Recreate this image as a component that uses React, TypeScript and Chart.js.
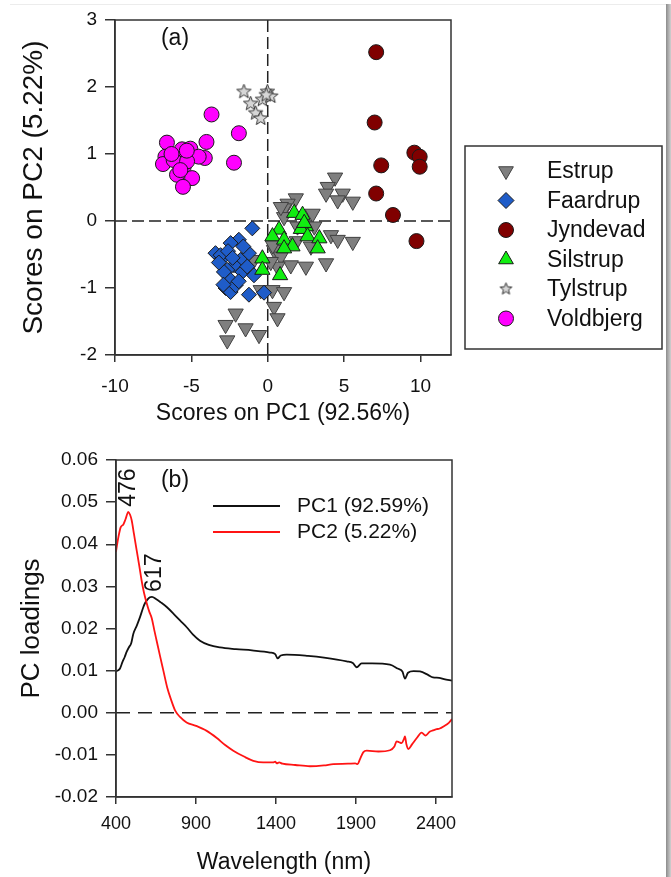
import React, { useEffect, useRef } from 'react';
import { Chart, registerables } from 'chart.js';
import { drawPoint } from 'chart.js/helpers';

Chart.register(...registerables);
Chart.defaults.font.family = '"Liberation Sans", Arial, sans-serif';
Chart.defaults.color = '#111';

// ---------- Panel (a): PCA scores ----------
const groupNames = ['Estrup', 'Faardrup', 'Jyndevad', 'Silstrup', 'Tylstrup', 'Voldbjerg'];
const groupColors = ['#7f7f7f', '#1f5cc8', '#800000', '#11ee11', '#d6d6d6', '#ff00ff'];

const estrup: [number, number][] = [
  [4.41, 0.65], [3.93, 0.51], [4.91, 0.41], [5.57, 0.29], [4.58, 0.31], [3.82, 0.41],
  [1.84, 0.34], [1.3, 0.26], [1.07, 0.19], [2.94, 0.11], [1.07, 0.06], [0.86, 0.21],
  [1.95, -0.08], [3.05, -0.08], [4.14, -0.21], [4.58, -0.28], [5.57, -0.31], [2.83, -0.38],
  [0.41, -0.43], [0.86, -0.53], [1.51, -0.66], [2.5, -0.68], [3.82, -0.63], [0.64, -0.68],
  [0.2, -0.61], [-0.9, -0.58], [0.33, -0.36], [1.9, -0.3],
  [-0.46, -1.03], [0.31, -1.03], [1.07, -1.06], [0.41, -1.28], [0.64, -1.45],
  [-2.1, -1.38], [-2.76, -1.55], [-1.45, -1.6], [-2.65, -1.78], [-0.57, -1.7],
];
const faardrup: [number, number][] = [
  [-1.01, -0.11], [-1.89, -0.28], [-2.43, -0.33], [-3.42, -0.48], [-2.98, -0.56], [-1.78, -0.58],
  [-1.23, -0.48], [-2.21, -0.66], [-2.65, -0.73], [-1.66, -0.76], [-0.9, -0.81], [-2.43, -0.88],
  [-2.76, -1.0], [-2.43, -1.06], [-1.23, -1.1], [-0.24, -1.07], [-3.09, -0.51], [-1.34, -0.68],
  [-2.87, -0.76], [-2.1, -0.96], [-3.2, -0.62], [-2.6, -0.45], [-1.9, -0.9], [-2.9, -0.95],
  [-1.6, -0.38], [-2.3, -0.55],
];
const jyndevad: [number, number][] = [
  [7.1, 2.52], [7.0, 1.47], [9.6, 1.02], [9.95, 0.96], [9.95, 0.81], [7.43, 0.83],
  [7.1, 0.41], [8.2, 0.09], [9.74, -0.3],
];
const silstrup: [number, number][] = [
  [1.73, 0.12], [2.28, 0.09], [0.74, -0.13], [0.31, -0.23], [2.5, -0.08], [2.17, -0.12],
  [2.61, -0.23], [1.07, -0.28], [3.38, -0.26], [1.62, -0.38], [1.07, -0.41], [3.27, -0.41],
  [-0.35, -0.56], [-0.35, -0.73], [0.81, -0.81], [2.39, -0.03],
];
const tylstrup: [number, number][] = [
  [-1.56, 1.93], [-1.12, 1.75], [-0.35, 1.81], [-0.02, 1.93], [0.2, 1.86], [-0.79, 1.61],
  [-0.46, 1.53], [-0.1, 1.88],
];
const voldbjerg: [number, number][] = [
  [-3.68, 1.59], [-1.89, 1.31], [-2.21, 0.87], [-4.01, 1.18], [-6.6, 1.17], [-6.7, 0.96],
  [-6.86, 0.85], [-5.61, 1.07], [-5.07, 1.08], [-4.12, 0.94], [-4.52, 0.96], [-5.5, 0.81],
  [-5.94, 0.69], [-4.95, 0.64], [-5.55, 0.51], [-6.16, 0.91], [-5.28, 0.89], [-5.72, 0.76],
  [-5.3, 1.05], [-6.3, 1.0],
];
const groupPoints = [estrup, faardrup, jyndevad, silstrup, tylstrup, voldbjerg];

const xTicksA = [-10, -5, 0, 5, 10];
const yTicksA = [-2, -1, 0, 1, 2, 3];
const xRangeA = [-10, 12];
const yRangeA = [-2, 3];

// ---------- Panel (b): PC loadings ----------
const pc1Wavelengths = [
  400, 410, 425, 440, 455, 467, 480, 495, 508, 530, 550, 570, 581, 595, 612, 625, 650, 680, 717,
  760, 800, 842, 880, 925, 980, 1050, 1150, 1250, 1362, 1395, 1410, 1430, 1467, 1600, 1700, 1842,
  1880, 1904, 1935, 2000, 2112, 2160, 2190, 2206, 2225, 2260, 2300, 2350, 2381, 2420, 2450, 2500,
];
const pc1Values = [
  0.0098, 0.01, 0.0105, 0.012, 0.0133, 0.0145, 0.0155, 0.0165, 0.0187, 0.0207, 0.0227, 0.025,
  0.026, 0.0268, 0.0274, 0.0275, 0.027, 0.0262, 0.0251, 0.0235, 0.0219, 0.0203, 0.0186, 0.0171,
  0.0161, 0.0155, 0.0151, 0.0148, 0.0143, 0.0139, 0.0129, 0.0136, 0.0138, 0.0135, 0.0131, 0.0122,
  0.0118, 0.0108, 0.0117, 0.0117, 0.0114, 0.0105, 0.0098, 0.0081, 0.0095, 0.0099, 0.0098, 0.009,
  0.0084, 0.0083, 0.008, 0.0076,
];
const pc2Wavelengths = [
  400, 405, 415, 429, 446, 460, 477, 488, 498, 512, 529, 545, 560, 575, 592, 608, 623, 640, 654,
  675, 696, 720, 745, 770, 800, 841, 900, 967, 1030, 1080, 1133, 1200, 1258, 1320, 1383, 1395,
  1405, 1420, 1440, 1520, 1612, 1700, 1758, 1850, 1895, 1910, 1925, 1945, 1967, 2040, 2112, 2140,
  2154, 2170, 2185, 2200, 2206, 2215, 2227, 2250, 2280, 2310, 2335, 2360, 2380, 2404, 2420, 2450,
  2480, 2500,
];
const pc2Values = [
  0.0382, 0.0395, 0.0417, 0.044, 0.0447, 0.046, 0.0477, 0.047, 0.0457, 0.0425, 0.0386, 0.035,
  0.0314, 0.0285, 0.026, 0.024, 0.0225, 0.0195, 0.0171, 0.0135, 0.01, 0.006, 0.003, 0.0005,
  -0.001, -0.0023, -0.0031, -0.0043, -0.006, -0.0076, -0.009, -0.0104, -0.0114, -0.0118, -0.0118,
  -0.0116, -0.012, -0.0118, -0.0121, -0.0124, -0.0127, -0.0125, -0.0122, -0.0121, -0.012, -0.0122,
  -0.011, -0.0094, -0.009, -0.0092, -0.0089, -0.008, -0.0068, -0.007, -0.0072, -0.0062, -0.0056,
  -0.0075, -0.0086, -0.0075, -0.006, -0.0047, -0.0054, -0.0045, -0.0042, -0.0039, -0.0038,
  -0.0032, -0.0024, -0.0015,
];
const seriesNames = ['PC1 (92.59%)', 'PC2 (5.22%)'];
const seriesColors = ['#111111', '#ff1414'];
const peakLabels = ['476', '617'];
const peakWavelengths = [476, 617];
const peakValues = [0.0477, 0.0275];

const xTicksB = [400, 900, 1400, 1900, 2400];
const yTicksB = [-0.02, -0.01, 0, 0.01, 0.02, 0.03, 0.04, 0.05, 0.06];
const xRangeB = [400, 2500];
const yRangeB = [-0.02, 0.06];

const FONT = '"Liberation Sans", Arial, sans-serif';
const AXIS = '#333';

function makeStar(outer: number, inner: number) {
  const size = Math.ceil(outer * 2 + 4);
  const c = document.createElement('canvas');
  c.width = size;
  c.height = size;
  const ctx = c.getContext('2d')!;
  ctx.beginPath();
  for (let i = 0; i < 10; i++) {
    const r = i % 2 === 0 ? outer : inner;
    const ang = -Math.PI / 2 + (i * Math.PI) / 5;
    const px = size / 2 + r * Math.cos(ang);
    const py = size / 2 + r * Math.sin(ang);
    if (i === 0) ctx.moveTo(px, py);
    else ctx.lineTo(px, py);
  }
  ctx.closePath();
  ctx.fillStyle = '#d6d6d6';
  ctx.fill();
  ctx.strokeStyle = '#333';
  ctx.lineWidth = 1;
  ctx.stroke();
  return c;
}

const framePlugin = {
  id: 'frame',
  afterDatasetsDraw(chart: any) {
    const { ctx, chartArea } = chart;
    ctx.save();
    ctx.strokeStyle = AXIS;
    ctx.lineWidth = 1.5;
    ctx.strokeRect(chartArea.left, chartArea.top, chartArea.right - chartArea.left, chartArea.bottom - chartArea.top);
    ctx.restore();
  },
};

export default function App() {
  const refA = useRef<HTMLCanvasElement>(null);
  const refB = useRef<HTMLCanvasElement>(null);

  useEffect(() => {
    document.body.style.margin = '0';
    document.body.style.overflow = 'hidden';
    document.body.style.background = '#fff';

    const star = makeStar(7.5, 3.2);
    const starSmall = makeStar(6.2, 2.7);
    const styles: any[] = ['triangle', 'rectRot', 'circle', 'triangle', star, 'circle'];
    const legendStyles: any[] = ['triangle', 'rectRot', 'circle', 'triangle', starSmall, 'circle'];
    const rotations = [180, 0, 0, 0, 0, 0];
    const radii = [8.8, 7.5, 7.5, 8.8, 7.5, 7.5];
    const legendRadii = [8.5, 8, 7.5, 8.5, 6, 7.5];
    const borders = ['#404040', '#1a1a1a', '#1a1a1a', '#1a1a1a', '#333', '#1a1a1a'];

    const scatterSets: any[] = groupNames.map((name, i) => ({
      label: name,
      data: groupPoints[i].map(([x, y]) => ({ x, y })),
      pointStyle: styles[i],
      pointRotation: rotations[i],
      pointRadius: radii[i],
      pointBackgroundColor: groupColors[i],
      pointBorderColor: borders[i],
      pointBorderWidth: 1,
      showLine: false,
      order: 6 - i,
    }));
    const dashA = {
      borderColor: '#222',
      borderWidth: 1.5,
      borderDash: [12, 5],
      pointRadius: 0,
      showLine: true,
      order: 10,
    };
    scatterSets.push({ ...dashA, label: 'h0', data: [{ x: xRangeA[0], y: 0 }, { x: xRangeA[1], y: 0 }] });
    scatterSets.push({ ...dashA, label: 'v0', data: [{ x: 0, y: yRangeA[0] }, { x: 0, y: yRangeA[1] }] });

    const legendA = {
      id: 'legendA',
      afterDraw(chart: any) {
        const ctx = chart.ctx;
        ctx.save();
        ctx.strokeStyle = AXIS;
        ctx.lineWidth = 1.5;
        ctx.strokeRect(465, 146, 197, 203);
        groupNames.forEach((name, i) => {
          const y = 171 + i * 29.5;
          ctx.fillStyle = groupColors[i];
          ctx.strokeStyle = borders[i];
          ctx.lineWidth = 1;
          drawPoint(ctx, { pointStyle: legendStyles[i], rotation: rotations[i], radius: legendRadii[i], borderWidth: 1 } as any, 506, y);
          ctx.fillStyle = '#111';
          ctx.font = `23px ${FONT}`;
          ctx.textAlign = 'left';
          ctx.textBaseline = 'middle';
          ctx.fillText(name, 547, y + 1);
        });
        ctx.font = `23px ${FONT}`;
        ctx.textAlign = 'center';
        ctx.fillText('(a)', 175, 39);
        ctx.restore();
      },
    };

    const chartA = new Chart(refA.current!, {
      type: 'scatter',
      data: { datasets: scatterSets },
      options: {
        responsive: false,
        animation: false,
        devicePixelRatio: 1,
        layout: { padding: { left: 0, top: 20, right: 220, bottom: 0 } },
        plugins: { legend: { display: false }, tooltip: { enabled: false } },
        scales: {
          x: {
            type: 'linear',
            min: xRangeA[0],
            max: xRangeA[1],
            afterBuildTicks: (s: any) => { s.ticks = xTicksA.map((v) => ({ value: v })); },
            afterFit: (s: any) => { s.height = 75; },
            grid: { drawOnChartArea: false, tickLength: 7, color: AXIS, lineWidth: 1.5 },
            border: { color: AXIS, width: 1.5 },
            ticks: { padding: 13, font: { size: 19 }, color: '#111', maxRotation: 0, autoSkip: false, callback: (v: any) => String(v) },
            title: { display: true, text: 'Scores on PC1 (92.56%)', font: { size: 23 }, color: '#111', padding: { top: 0, bottom: 3 } },
          },
          y: {
            type: 'linear',
            min: yRangeA[0],
            max: yRangeA[1],
            afterBuildTicks: (s: any) => { s.ticks = yTicksA.map((v) => ({ value: v })); },
            afterFit: (s: any) => { s.width = 115; },
            grid: { drawOnChartArea: false, tickLength: 10, color: AXIS, lineWidth: 1.5 },
            border: { color: AXIS, width: 1.5 },
            ticks: { padding: 8, font: { size: 19 }, color: '#111', callback: (v: any) => String(v) },
            title: { display: true, text: 'Scores on PC2 (5.22%)', font: { size: 28 }, color: '#111', padding: { top: 17, bottom: 0 } },
          },
        },
      } as any,
      plugins: [framePlugin, legendA],
    });

    const legendB = {
      id: 'legendB',
      afterDraw(chart: any) {
        const ctx = chart.ctx;
        const xs = chart.scales.x;
        const ys = chart.scales.y;
        ctx.save();
        seriesNames.forEach((name, i) => {
          const y = 76 + i * 26;
          ctx.strokeStyle = seriesColors[i];
          ctx.lineWidth = 1.8;
          ctx.beginPath();
          ctx.moveTo(213, y);
          ctx.lineTo(280, y);
          ctx.stroke();
          ctx.fillStyle = '#111';
          ctx.font = `21px ${FONT}`;
          ctx.textAlign = 'left';
          ctx.textBaseline = 'middle';
          ctx.fillText(name, 297, y);
        });
        ctx.font = `23px ${FONT}`;
        ctx.textAlign = 'center';
        ctx.fillText('(b)', 175, 51);
        const dxs = [0, 4];
        peakLabels.forEach((lab, i) => {
          const px = xs.getPixelForValue(peakWavelengths[i]) + dxs[i];
          const py = ys.getPixelForValue(peakValues[i]) - 5;
          ctx.save();
          ctx.translate(px, py);
          ctx.rotate(-Math.PI / 2);
          ctx.textAlign = 'left';
          ctx.textBaseline = 'middle';
          ctx.font = `23px ${FONT}`;
          ctx.fillText(lab, 0, 0);
          ctx.restore();
        });
        ctx.restore();
      },
    };

    const chartB = new Chart(refB.current!, {
      type: 'line',
      data: {
        datasets: [
          {
            label: seriesNames[0],
            data: pc1Wavelengths.map((x, i) => ({ x, y: pc1Values[i] })),
            borderColor: seriesColors[0],
            borderWidth: 1.8,
            pointRadius: 0,
            cubicInterpolationMode: 'monotone',
            order: 2,
          },
          {
            label: seriesNames[1],
            data: pc2Wavelengths.map((x, i) => ({ x, y: pc2Values[i] })),
            borderColor: seriesColors[1],
            borderWidth: 1.8,
            pointRadius: 0,
            cubicInterpolationMode: 'monotone',
            order: 1,
          },
          {
            label: 'zero',
            data: [{ x: xRangeB[0], y: 0 }, { x: xRangeB[1], y: 0 }],
            borderColor: '#222',
            borderWidth: 1.5,
            borderDash: [14, 8],
            pointRadius: 0,
            order: 10,
          },
        ],
      },
      options: {
        responsive: false,
        animation: false,
        devicePixelRatio: 1,
        layout: { padding: { left: 0, top: 30, right: 219, bottom: 0 } },
        plugins: { legend: { display: false }, tooltip: { enabled: false } },
        scales: {
          x: {
            type: 'linear',
            min: xRangeB[0],
            max: xRangeB[1],
            afterBuildTicks: (s: any) => { s.ticks = xTicksB.map((v) => ({ value: v })); },
            afterFit: (s: any) => { s.height = 80; },
            grid: { drawOnChartArea: false, tickLength: 7, color: AXIS, lineWidth: 1.5 },
            border: { color: AXIS, width: 1.5 },
            ticks: { padding: 9, font: { size: 18 }, color: '#111', maxRotation: 0, autoSkip: false, callback: (v: any) => String(v) },
            title: { display: true, text: 'Wavelength (nm)', font: { size: 23 }, color: '#111', padding: { top: 0, bottom: 1 } },
          },
          y: {
            type: 'linear',
            min: yRangeB[0],
            max: yRangeB[1],
            afterBuildTicks: (s: any) => { s.ticks = yTicksB.map((v) => ({ value: v })); },
            afterFit: (s: any) => { s.width = 116; },
            grid: { drawOnChartArea: false, tickLength: 10, color: AXIS, lineWidth: 1.5 },
            border: { color: AXIS, width: 1.5 },
            ticks: { padding: 8, font: { size: 19 }, color: '#111', callback: (v: any) => Number(v).toFixed(2) },
            title: { display: true, text: 'PC loadings', font: { size: 26 }, color: '#111', padding: { top: 16, bottom: 0 } },
          },
        },
      } as any,
      plugins: [framePlugin, legendB],
    });

    return () => {
      chartA.destroy();
      chartB.destroy();
    };
  }, []);

  return (
    <div style={{ position: 'relative', width: 671, height: 877, overflow: 'hidden', background: '#fff' }}>
      <canvas ref={refA} width={671} height={430} style={{ position: 'absolute', left: 0, top: 0, width: 671, height: 430 }} />
      <canvas ref={refB} width={671} height={447} style={{ position: 'absolute', left: 0, top: 430, width: 671, height: 447 }} />
      <div style={{ position: 'absolute', left: 10, top: 4, width: 656, height: 1, background: '#ececec' }} />
      <div style={{ position: 'absolute', left: 666, top: 4, width: 5, height: 873, background: 'linear-gradient(to right,#8c8c8c,#d0d0d0)' }} />
    </div>
  );
}
